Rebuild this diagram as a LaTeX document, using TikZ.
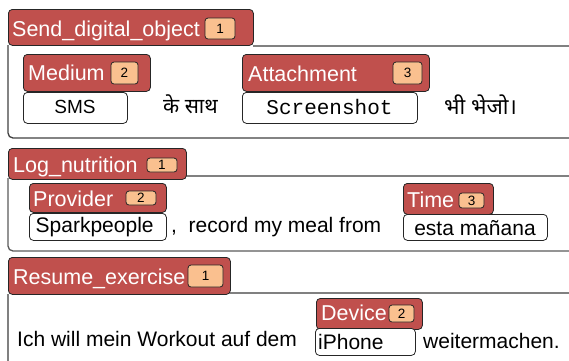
\documentclass[tikz,border=0pt]{standalone}
\usepackage{fontspec}
\setmainfont{Liberation Sans}
\setmonofont{Liberation Mono}
\newfontfamily\deva[Script=Devanagari]{Noto Sans}
\definecolor{hdr}{HTML}{C0504D}
\definecolor{bdg}{HTML}{FAC08F}
\definecolor{frmtop}{HTML}{808080}
\definecolor{frmside}{HTML}{5A5A5A}
\begin{document}
\begin{tikzpicture}[x=1pt,y=-1pt,
  hbox/.style={draw=black!85, fill=hdr, rounded corners=4pt, line width=0.8pt, inner sep=0pt, anchor=north west},
  vbox/.style={draw=black!85, fill=white, rounded corners=4pt, line width=0.8pt, inner sep=0pt, anchor=north west},
  badge/.style={draw=black!85, fill=bdg, rounded corners=3pt, line width=0.8pt, inner sep=0pt, font=\fontsize{13.5}{13.5}\selectfont},
  ltext/.style={text=white, inner sep=0pt, anchor=base west, font=\fontsize{21.5}{22}\selectfont},
  btext/.style={inner sep=0pt, anchor=base west, font=\fontsize{21}{22}\selectfont},
  dtext/.style={inner sep=0pt, anchor=base west, font=\deva\fontsize{21}{22}\selectfont},
  topline/.style={draw=frmtop, line width=1.3pt},
  sideline/.style={draw=frmside, line width=1.3pt, rounded corners=5pt}]
\useasboundingbox (0,0) rectangle (569,360);

% ---------- Block 1 ----------
\coordinate (f1a) at (8,45);
\coordinate (f1b) at (569,138);
\coordinate (t1a) at (253,46);
\coordinate (t1b) at (569,46);
\draw[topline] (t1a) -- (t1b);
\draw[sideline, draw=black!75] (f1a) |- (f1b);
\node[hbox, minimum width=245pt, minimum height=36pt] (h1) at (8,9) {};
\node[ltext] (h1t) at (12,36) {Send\_digital\_object};
\node[badge, minimum width=30pt, minimum height=21pt] (h1b) at (220,28.5) {1};

\node[hbox, minimum width=127pt, minimum height=37pt] (l11) at (23,54) {};
\node[ltext] (l11t) at (28,80) {Medium};
\node[badge, minimum width=27pt, minimum height=22pt] (l11b) at (124.5,73) {2};
\node[vbox, minimum width=104pt, minimum height=31pt] (v11) at (23,92) {};
\node[inner sep=0pt, anchor=base, font=\fontsize{19}{22}\selectfont] (v11t) at (75,113) {SMS};

\node[dtext] (w11) at (163,113) {के साथ};

\node[hbox, minimum width=187pt, minimum height=37pt] (l12) at (242,54) {};
\node[ltext] (l12t) at (248,81) {Attachment};
\node[badge, minimum width=29pt, minimum height=22pt] (l12b) at (407.5,73) {3};
\node[vbox, minimum width=175pt, minimum height=31pt] (v12) at (242,92) {};
\node[inner sep=0pt, anchor=base, font=\ttfamily\fontsize{21}{22}\selectfont] (v12t) at (329.5,114) {Screenshot};

\node[dtext, font=\deva\fontsize{22}{22}\selectfont] (w12) at (444,114) {भी भेजो।};

% ---------- Block 2 ----------
\coordinate (f2a) at (8,178);
\coordinate (f2b) at (569,251);
\coordinate (t2a) at (186,176);
\coordinate (t2b) at (569,176);
\draw[topline] (t2a) -- (t2b);
\draw[sideline] (f2a) |- (f2b);
\node[hbox, minimum width=178pt, minimum height=31pt] (h2) at (8,148) {};
\node[ltext] (h2t) at (13,172) {Log\_nutrition};
\node[badge, minimum width=30pt, minimum height=14pt] (h2b) at (162,165) {1};

\node[hbox, minimum width=137pt, minimum height=29pt] (l21) at (29,183) {};
\node[ltext] (l21t) at (33,206) {Provider};
\node[badge, minimum width=30pt, minimum height=14pt] (l21b) at (141,198) {2};
\node[vbox, minimum width=137pt, minimum height=27pt] (v21) at (29,213) {};
\node[btext] (v21t) at (35.5,232) {Sparkpeople};

\node[btext] (w21) at (171,232) {,\ \ record my meal from};

\node[hbox, minimum width=90pt, minimum height=31pt] (l22) at (403,183) {};
\node[ltext] (l22t) at (407,207) {Time};
\node[badge, minimum width=25pt, minimum height=15pt] (l22b) at (471.5,200.5) {3};
\node[vbox, minimum width=144pt, minimum height=26pt] (v22) at (403,214) {};
\node[inner sep=0pt, anchor=base, font=\fontsize{21}{22}\selectfont] (v22t) at (475,235) {esta mañana};

% ---------- Block 3 ----------
\coordinate (f3a) at (8,294);
\coordinate (f3b) at (8,362);
\coordinate (t3a) at (230,293);
\coordinate (t3b) at (569,293);
\draw[topline] (t3a) -- (t3b);
\draw[topline] (f3a) -- (f3b);
\node[hbox, minimum width=222pt, minimum height=37pt] (h3) at (8,257) {};
\node[ltext] (h3t) at (13,284) {Resume\_exercise};
\node[badge, minimum width=35pt, minimum height=22pt] (h3b) at (205.5,276) {1};

\node[btext] (w31) at (17,346) {Ich will mein Workout auf dem};

\node[hbox, minimum width=106pt, minimum height=31pt] (l31) at (316,298) {};
\node[ltext] (l31t) at (321,320) {Device};
\node[badge, minimum width=25pt, minimum height=17pt] (l31b) at (401.5,313.5) {2};
\node[vbox, minimum width=100pt, minimum height=27pt] (v31) at (315,328) {};
\node[btext] (v31t) at (318,349) {iPhone};

\node[btext] (w32) at (423,348) {weitermachen.};
\end{tikzpicture}
\end{document}
